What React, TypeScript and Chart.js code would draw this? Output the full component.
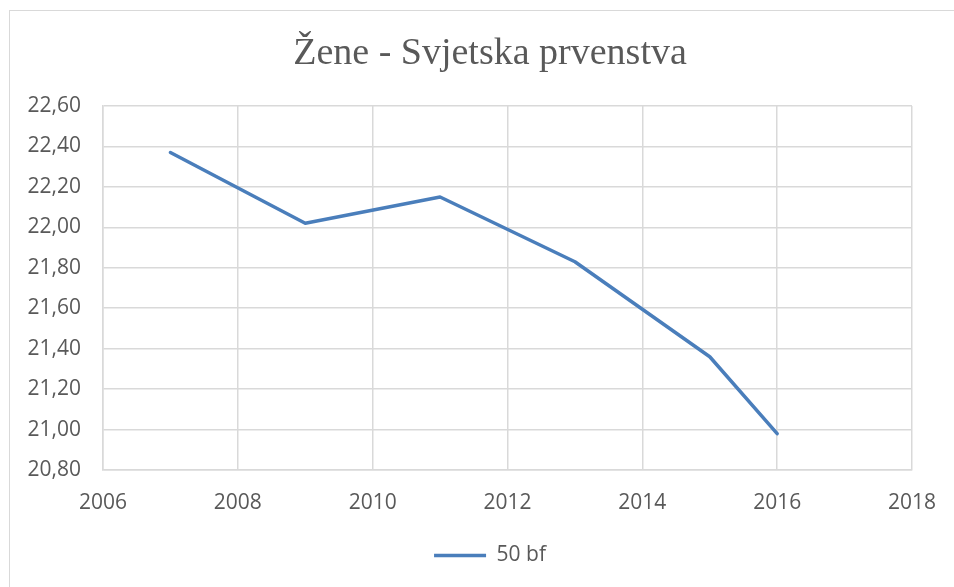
import React, { useEffect, useRef } from "react";
import { Chart, registerables } from "chart.js";

Chart.register(...registerables);

const years = [2007, 2009, 2011, 2013, 2015, 2016];
const values50bf = [22.37, 22.02, 22.15, 21.83, 21.36, 20.98];
const seriesName = "50 bf";
const chartTitle = "Žene - Svjetska prvenstva";

const fmt = (v: number) => v.toFixed(2).replace(".", ",");

const CW = 980;
const CH = 587;

const borderPlugin = {
  id: "outerBorder",
  beforeDraw(chart: any) {
    const ctx = chart.ctx;
    ctx.save();
    ctx.strokeStyle = "#d9d9d9";
    ctx.lineWidth = 1;
    ctx.strokeRect(9.5, 10.5, chart.width + 20, chart.height + 20);
    ctx.restore();
  },
};

export default function App() {
  const ref = useRef<HTMLCanvasElement>(null);
  useEffect(() => {
    const chart = new Chart(ref.current!, {
      type: "line",
      data: {
        datasets: [
          {
            label: seriesName,
            data: years.map((y, i) => ({ x: y, y: values50bf[i] })),
            borderColor: "#4a7ebb",
            backgroundColor: "#4a7ebb",
            borderWidth: 3.5,
            pointRadius: 0,
            tension: 0,
            borderCapStyle: "round",
            borderJoinStyle: "round",
          },
        ],
      },
      options: {
        animation: false,
        responsive: false,
        layout: { padding: { left: 0, right: 0, top: 0, bottom: 11 } },
        plugins: {
          title: {
            display: true,
            text: chartTitle,
            color: "#595959",
            font: { family: "'Liberation Serif', serif", size: 38, weight: "normal", lineHeight: 1.2 },
            padding: { top: 31.2, bottom: 29.2 },
          },
          legend: {
            display: true,
            position: "bottom",
            labels: {
              usePointStyle: true,
              pointStyle: "line",
              pointStyleWidth: 52,
              color: "#595959",
              font: { family: "'Open Sans'", size: 21 },
              padding: 10,
            },
          },
          tooltip: { enabled: false },
        },
        scales: {
          x: {
            type: "linear",
            min: 2006,
            max: 2018,
            ticks: {
              stepSize: 2,
              color: "#595959",
              font: { family: "'Open Sans'", size: 21 },
              padding: 20,
              callback: (v: any) => String(v),
            },
            grid: { color: "#d9d9d9", lineWidth: 1.5, drawTicks: false },
            border: { color: "#d9d9d9", width: 1.5 },
            afterFit: (s: any) => {
              s.height = 65;
            },
          },
          y: {
            min: 20.8,
            max: 22.6,
            ticks: {
              stepSize: 0.2,
              color: "#595959",
              font: { family: "'Open Sans'", size: 21 },
              padding: 22,
              callback: (v: any) => fmt(Number(v)),
            },
            grid: { color: "#d9d9d9", lineWidth: 1.5, drawTicks: false },
            border: { color: "#d9d9d9", width: 1.5 },
            afterFit: (s: any) => {
              s.width = 103;
            },
          },
          yRight: {
            position: "right",
            min: 20.8,
            max: 22.6,
            ticks: { display: false },
            grid: { display: false, drawTicks: false },
            border: { display: false },
            afterFit: (s: any) => {
              s.width = CW - 912;
            },
          },
        },
      },
      plugins: [borderPlugin],
    } as any);
    return () => chart.destroy();
  }, []);
  return (
    <div style={{ position: "absolute", left: 0, top: 0, width: 954, height: 587, overflow: "hidden" }}>
      <canvas ref={ref} width={CW} height={CH} style={{ width: CW, height: CH, display: "block" }} />
    </div>
  );
}
